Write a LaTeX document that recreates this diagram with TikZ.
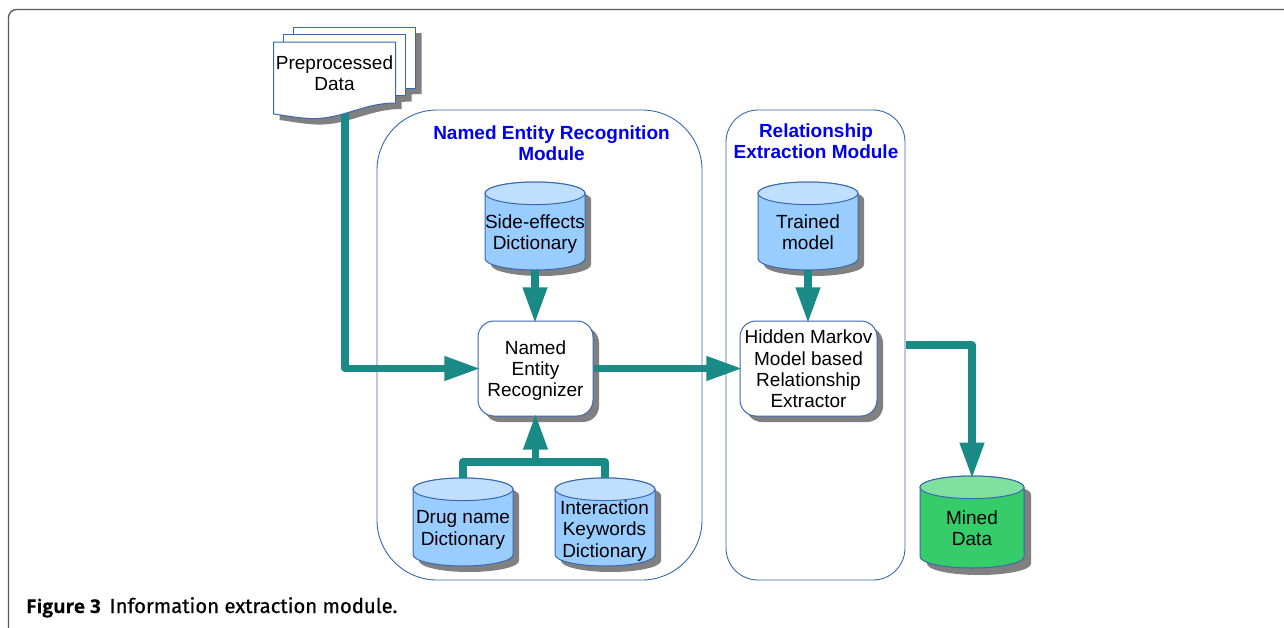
\documentclass[tikz,border=0pt]{standalone}
\usepackage{fontspec}
\setmainfont{Liberation Sans}
\newfontfamily\capfont[FakeBold=0.6]{Fira Sans}
\newfontfamily\capboldfont[FakeBold=0.3]{Open Sans Bold}
\usetikzlibrary{arrows.meta}
\definecolor{edgeblue}{HTML}{3A68B0}
\definecolor{teal1}{HTML}{1A8A87}
\definecolor{shadowgray}{HTML}{808080}
\definecolor{cylblue}{HTML}{99CCFF}
\definecolor{cyltop}{HTML}{C0DFFF}
\definecolor{cylgreen}{HTML}{35CC69}
\definecolor{cylgtop}{HTML}{7FE09F}
\definecolor{headblue}{HTML}{0000EE}
\tikzset{
  x=1pt,y=-1pt,
  txt/.style={align=center,inner sep=0pt,text=black,font=\fontsize{19}{21.4}\selectfont},
  heading/.style={align=center,inner sep=0pt,text=headblue,font=\fontsize{19}{21.4}\selectfont\bfseries},
  module/.style={draw=edgeblue,line width=0.9pt,fill=white,inner sep=0pt},
  proc/.style={draw=edgeblue,line width=1pt,fill=white,inner sep=0pt,rounded corners=16pt,minimum height=95pt},
  procshadow/.style={fill=shadowgray,rounded corners=16pt},
  conn/.style={draw=teal1,line width=7.2pt,line join=round},
  arrow/.style={conn,-{Triangle[length=36pt,width=23pt]},shorten >=-2.8pt},
  cylbox/.style={inner sep=0pt},
  sheet/.style={draw=edgeblue,line width=1pt,fill=white},
}
% \drum{name}{left}{top}{width}{height}{body}{top colour}{shadow offset}
\newcommand{\drum}[8]{%
  \pgfmathsetmacro{\dxr}{#2+#4}\pgfmathsetmacro{\dxc}{#2+#4/2}%
  \pgfmathsetmacro{\dyu}{#3+11.3}\pgfmathsetmacro{\dyl}{#3+#5-11.3}\pgfmathsetmacro{\drx}{#4/2}%
  \fill[shadowgray,shift={(#8,#8)}] (#2,\dyu) arc[start angle=180,end angle=0,x radius=\drx,y radius=-11.3] -- (\dxr,\dyl) arc[start angle=0,end angle=-180,x radius=\drx,y radius=-11.3] -- cycle;
  \draw[edgeblue,line width=1pt,fill=#6] (#2,\dyu) arc[start angle=180,end angle=0,x radius=\drx,y radius=-11.3] -- (\dxr,\dyl) arc[start angle=0,end angle=-180,x radius=\drx,y radius=-11.3] -- cycle;
  \draw[edgeblue,line width=1pt,fill=#7] (\dxc,\dyu) ellipse[x radius=\drx,y radius=11.3];
  \node[cylbox,minimum width=#4 pt,minimum height=#5 pt] (#1) at (\dxc,{#3+#5/2}) {};
}
\begin{document}
\begin{tikzpicture}
\useasboundingbox (0,0) rectangle (1284,627);
\fill[white] (0,0) rectangle (1284,627);
% page frame
\draw[draw=black!65,line width=1.3pt,rounded corners=8pt] (8.5,640) -- (8.5,9.5) -- (1290,9.5);

% modules
\node[module,rounded corners=60pt,minimum width=325pt,minimum height=470pt] (nermod) at (539.5,345) {};
\node[module,rounded corners=32pt,minimum width=179pt,minimum height=470pt] (remod) at (815.5,345) {};
\node[heading] (nerhead) at (551.5,143) {Named Entity Recognition\\Module};
\node[heading] (rehead) at (816,141.5) {Relationship\\Extraction Module};

% document stack: shadows
\foreach \dx/\dy in {0/0,10/-7.5,20/-15}{
  \fill[shadowgray,shift={(\dx+6,\dy+6)}] (273.5,42) -- (395.5,42) -- (395.5,103) .. controls (360,103) and (340,122) .. (303,118) .. controls (292,117) and (282,115) .. (273.5,114) -- cycle;
}
\coordinate (docout) at (345,112);
\coordinate (jn) at (535.5,462);
\coordinate (reout) at (905.5,345);

% processes (shadows first)
\fill[procshadow] (484,327) rectangle (599,422);
\fill[procshadow] (746,327) rectangle (883,422);
\node[proc,minimum width=115pt] (rec) at (535.5,368.5) {};
\node[proc,minimum width=137pt] (hmm) at (808.5,368.5) {};
\node[txt] at (535.5,370.5) {Named\\Entity\\Recognizer};
\node[txt] at (808.5,369) {Hidden Markov\\Model based\\Relationship\\Extractor};

% cylinders
\drum{side}{485}{182}{100}{88}{cylblue}{cyltop}{6}
\drum{trained}{758}{182}{100}{88}{cylblue}{cyltop}{6}
\drum{drug}{413}{478}{100}{88}{cylblue}{cyltop}{6}
\drum{inter}{555}{478}{100}{88}{cylblue}{cyltop}{6}
\drum{mined}{920}{476}{104}{92}{cylgreen}{cylgtop}{7}
\node[txt] at (535,234) {Side-effects\\Dictionary};
\node[txt] at (808,232) {Trained\\model};
\node[txt] at (463,530) {Drug name\\Dictionary};
\node[txt] at (604.5,531) {Interaction\\Keywords\\Dictionary};
\node[txt] at (972,528) {Mined\\Data};

% connectors
\draw[arrow] (docout) |- (rec.west);
\draw[arrow] (rec.east) -- (hmm.west);
\draw[arrow] (side.south) -- (rec.north -| side.south);
\draw[arrow] (trained.south) -- (hmm.north -| trained.south);
\draw[conn] (drug.north) |- (jn) -| (inter.north);
\draw[arrow] (jn) -- (rec.south);
\draw[arrow] (reout) -| (mined.north);

% document stack: sheets
\draw[sheet] (293.5,27) -- (415.5,27) -- (415.5,88) -- (405.5,88) -- (405.5,34) -- (293.5,34) -- cycle;
\draw[sheet] (283.5,34) -- (405.5,34) -- (405.5,95.5) -- (395.5,95.5) -- (395.5,42) -- (283.5,42) -- cycle;
\draw[sheet] (273.5,42) -- (395.5,42) -- (395.5,103) .. controls (360,103) and (340,122) .. (303,118) .. controls (292,117) and (282,115) .. (273.5,114) -- cycle;
\node[txt] (doc) at (334.5,73.5) {Preprocessed\\Data};

% caption
\node[anchor=base west,inner sep=0pt,text=black] (cap) at (26,613) {{\capboldfont\fontsize{19}{22}\selectfont Figure 3}\hspace{6pt} {\capfont\fontsize{20.3}{22}\selectfont Information extraction module.}};
\end{tikzpicture}
\end{document}
